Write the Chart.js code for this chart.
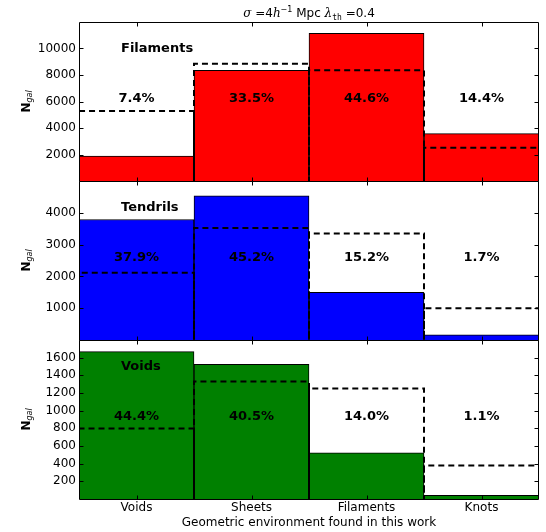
<!DOCTYPE html>
<html>
<head>
<meta charset="utf-8">
<script src="https://cdn.jsdelivr.net/npm/chart.js@4.4.1/dist/chart.umd.min.js"></script>
<style>
  html, body { margin: 0; padding: 0; background: #fff; }
  #wrap { position: relative; width: 546px; height: 532px; }
</style>
</head>
<body>
<div id="wrap"><canvas id="chart" width="546" height="532"></canvas></div>
<script>
const categories = ['Voids', 'Sheets', 'Filaments', 'Knots'];

// top panel: galaxies in filaments
const filamentsCounts = [1880, 8360, 11150, 3580];
const filamentsRef = [5280, 8840, 8350, 2510];
const filamentsPct = ['7.4%', '33.5%', '44.6%', '14.4%'];
const filamentsTicks = [2000, 4000, 6000, 8000, 10000];

// middle panel: tendrils
const tendrilsCounts = [3790, 4535, 1500, 160];
const tendrilsRef = [2115, 3525, 3350, 1000];
const tendrilsPct = ['37.9%', '45.2%', '15.2%', '1.7%'];
const tendrilsTicks = [1000, 2000, 3000, 4000];

// bottom panel: voids
const voidsCounts = [1668, 1524, 522, 41];
const voidsRef = [798, 1331, 1252, 378];
const voidsPct = ['44.4%', '40.5%', '14.0%', '1.1%'];
const voidsTicks = [200, 400, 600, 800, 1000, 1200, 1400, 1600];

const PANELS = [
  { id: 'yTop', name: 'Filaments', counts: filamentsCounts, ref: filamentsRef, pct: filamentsPct, ticks: filamentsTicks, max: 12000, color: '#ff0000' },
  { id: 'yMid', name: 'Tendrils', counts: tendrilsCounts, ref: tendrilsRef, pct: tendrilsPct, ticks: tendrilsTicks, max: 5000, color: '#0000ff' },
  { id: 'yBot', name: 'Voids', counts: voidsCounts, ref: voidsRef, pct: voidsPct, ticks: voidsTicks, max: 1800, color: '#008000' }
];

const FONT = 'DejaVu Sans';
Chart.defaults.font.family = FONT;
Chart.defaults.color = '#000';

function boxOutline(values) {
  const pts = [];
  values.forEach((v, i) => {
    pts.push({ x: i, y: 0 }, { x: i, y: v }, { x: i + 1, y: v }, { x: i + 1, y: 0 });
  });
  return pts;
}

const datasets = [];
PANELS.forEach(p => {
  datasets.push({
    type: 'line',
    data: boxOutline(p.ref),
    yAxisID: p.id,
    borderColor: '#000',
    borderWidth: 2,
    borderDash: [6, 4],
    pointRadius: 0,
    fill: false,
    tension: 0,
    order: 0
  });
  datasets.push({
    type: 'bar',
    data: p.counts.map((v, i) => ({ x: i + 0.5, y: v })),
    yAxisID: p.id,
    backgroundColor: p.color,
    borderColor: '#000',
    borderWidth: 1,
    grouped: false,
    barPercentage: 1,
    categoryPercentage: 1,
    order: 1
  });
});

function yScale(p) {
  return {
    type: 'linear',
    stack: 'panels',
    stackWeight: 1,
    min: 0,
    max: p.max,
    afterBuildTicks: s => { s.ticks = p.ticks.map(v => ({ value: v })); },
    afterFit: s => { s.width = 79; },
    ticks: { font: { size: 12 }, color: '#000', padding: 3, autoSkip: false, callback: v => String(v) },
    grid: { display: false, drawTicks: false },
    border: { display: false }
  };
}

const scales = {
  x: {
    type: 'linear',
    offset: false,
    min: 0,
    max: 4,
    afterBuildTicks: s => { s.ticks = categories.map((c, i) => ({ value: i + 0.5 })); },
    afterFit: s => { s.height = 33; },
    ticks: {
      font: { size: 12 },
      color: '#000',
      padding: 2,
      autoSkip: false,
      maxRotation: 0,
      callback: v => categories[Math.floor(v)]
    },
    grid: { display: false, drawTicks: false, offset: false },
    border: { display: false },
    title: {
      display: true,
      text: 'Geometric environment found in this work',
      font: { size: 12 },
      color: '#000',
      padding: { top: 0, bottom: 2 }
    }
  }
};
// later scales are stacked on top
scales.yBot = yScale(PANELS[2]);
scales.yMid = yScale(PANELS[1]);
scales.yTop = yScale(PANELS[0]);

function drawRuns(ctx, runs, x, y) {
  let total = 0;
  runs.forEach(r => { ctx.font = r.f; r.w = ctx.measureText(r.t).width; total += r.w; });
  let cx = x - total / 2;
  runs.forEach(r => {
    ctx.font = r.f;
    ctx.fillText(r.t, cx, y + (r.dy || 0));
    cx += r.w;
  });
}

const panelDecor = {
  id: 'panelDecor',
  afterDraw(chart) {
    const ctx = chart.ctx;
    const area = chart.chartArea;
    const xs = chart.scales.x;
    const tickLen = 4;
    ctx.save();
    ctx.fillStyle = '#000';
    ctx.strokeStyle = '#000';
    ctx.lineWidth = 1;

    PANELS.forEach(p => {
      const ys = chart.scales[p.id];
      const top = Math.round(ys.top) + 0.5;
      const bottom = Math.round(ys.bottom) + 0.5;
      const left = Math.round(area.left) + 0.5;
      const right = Math.round(area.right) - 0.5;
      ctx.beginPath();
      ctx.rect(left, top, right - left, bottom - top);
      // inward ticks
      ys.ticks.forEach(t => {
        const y = Math.round(ys.getPixelForValue(t.value)) + 0.5;
        ctx.moveTo(left, y); ctx.lineTo(left + tickLen, y);
        ctx.moveTo(right, y); ctx.lineTo(right - tickLen, y);
      });
      xs.ticks.forEach(t => {
        const x = Math.round(xs.getPixelForValue(t.value)) + 0.5;
        ctx.moveTo(x, bottom); ctx.lineTo(x, bottom - tickLen);
        ctx.moveTo(x, top); ctx.lineTo(x, top + tickLen);
      });
      ctx.stroke();

      const h = ys.bottom - ys.top;
      ctx.textBaseline = 'middle';
      ctx.font = 'bold 13px ' + FONT;
      ctx.textAlign = 'left';
      ctx.fillText(p.name, 121, ys.top + h * 0.17);
      ctx.textAlign = 'center';
      p.pct.forEach((s, i) => {
        ctx.fillText(s, xs.getPixelForValue(i + 0.5), ys.top + h * 0.48);
      });

      // y axis title N_gal
      ctx.save();
      ctx.translate(27, (ys.top + ys.bottom) / 2);
      ctx.rotate(-Math.PI / 2);
      ctx.textAlign = 'left';
      drawRuns(ctx, [
        { t: 'N', f: 'bold 12px ' + FONT },
        { t: 'gal', f: 'italic 8px ' + FONT, dy: 3 }
      ], 0, 0);
      ctx.restore();
    });

    // title
    ctx.textAlign = 'left';
    ctx.textBaseline = 'alphabetic';
    drawRuns(ctx, [
      { t: 'σ', f: 'italic 12px DejaVu Serif' },
      { t: ' =4', f: '12px ' + FONT },
      { t: 'h', f: 'italic 12px DejaVu Serif' },
      { t: '−1', f: '8px ' + FONT, dy: -5 },
      { t: ' Mpc ', f: '12px ' + FONT },
      { t: 'λ', f: 'italic 12px DejaVu Serif' },
      { t: 'th', f: '8px DejaVu Sans Mono', dy: 3 },
      { t: ' =0.4', f: '12px ' + FONT }
    ], (area.left + area.right) / 2, 17);
    ctx.restore();
  }
};

new Chart(document.getElementById('chart'), {
  type: 'bar',
  data: { datasets },
  options: {
    responsive: false,
    animation: false,
    layout: { padding: { left: 0, right: 7, top: 22, bottom: 0 } },
    scales,
    plugins: {
      legend: { display: false },
      tooltip: { enabled: false },
      title: { display: false }
    }
  },
  plugins: [panelDecor]
});
</script>
</body>
</html>
